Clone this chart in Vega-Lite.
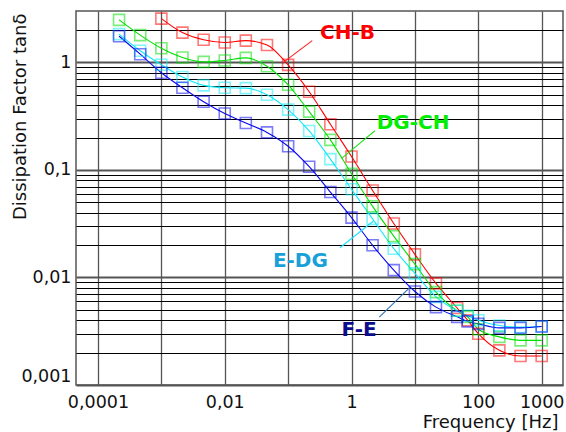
{
  "$schema": "https://vega.github.io/schema/vega-lite/v6.json",
  "autosize": {"type": "none"},
  "padding": {"left": 76, "top": 11, "right": 3, "bottom": 47},
  "width": 487,
  "height": 374,
  "background": "white",
  "config": {"font": "DejaVu Sans", "view": {"stroke": "#555", "strokeWidth": 1.5}},
  "datasets": {
    "curves": [
      {"s": "CH-B", "f": 0.001, "v": 2.55},
      {"s": "CH-B", "f": 0.00215, "v": 1.89},
      {"s": "CH-B", "f": 0.00464, "v": 1.62},
      {"s": "CH-B", "f": 0.01, "v": 1.53},
      {"s": "CH-B", "f": 0.0215, "v": 1.59},
      {"s": "CH-B", "f": 0.0464, "v": 1.45},
      {"s": "CH-B", "f": 0.1, "v": 0.946},
      {"s": "CH-B", "f": 0.215, "v": 0.533},
      {"s": "CH-B", "f": 0.464, "v": 0.266},
      {"s": "CH-B", "f": 1, "v": 0.133},
      {"s": "CH-B", "f": 2.15, "v": 0.0644},
      {"s": "CH-B", "f": 4.64, "v": 0.0317},
      {"s": "CH-B", "f": 10, "v": 0.0164},
      {"s": "CH-B", "f": 21.5, "v": 0.0088},
      {"s": "CH-B", "f": 46.4, "v": 0.0052},
      {"s": "CH-B", "f": 68, "v": 0.004},
      {"s": "CH-B", "f": 100, "v": 0.003},
      {"s": "CH-B", "f": 215, "v": 0.0021},
      {"s": "CH-B", "f": 464, "v": 0.00186},
      {"s": "CH-B", "f": 1000, "v": 0.00186},
      {"s": "DG-CH", "f": 0.000215, "v": 2.48},
      {"s": "DG-CH", "f": 0.000464, "v": 1.79},
      {"s": "DG-CH", "f": 0.001, "v": 1.35},
      {"s": "DG-CH", "f": 0.00215, "v": 1.11},
      {"s": "DG-CH", "f": 0.00464, "v": 1.01},
      {"s": "DG-CH", "f": 0.01, "v": 1.04},
      {"s": "DG-CH", "f": 0.0215, "v": 1.1},
      {"s": "DG-CH", "f": 0.0464, "v": 0.92},
      {"s": "DG-CH", "f": 0.1, "v": 0.618},
      {"s": "DG-CH", "f": 0.215, "v": 0.348},
      {"s": "DG-CH", "f": 0.464, "v": 0.19},
      {"s": "DG-CH", "f": 1, "v": 0.092},
      {"s": "DG-CH", "f": 2.15, "v": 0.0458},
      {"s": "DG-CH", "f": 4.64, "v": 0.0242},
      {"s": "DG-CH", "f": 10, "v": 0.0133},
      {"s": "DG-CH", "f": 21.5, "v": 0.0073},
      {"s": "DG-CH", "f": 46.4, "v": 0.0049},
      {"s": "DG-CH", "f": 68, "v": 0.0043},
      {"s": "DG-CH", "f": 100, "v": 0.0033},
      {"s": "DG-CH", "f": 215, "v": 0.0028},
      {"s": "DG-CH", "f": 464, "v": 0.0026},
      {"s": "DG-CH", "f": 1000, "v": 0.0026},
      {"s": "E-DG", "f": 0.000215, "v": 1.83},
      {"s": "E-DG", "f": 0.000464, "v": 1.28},
      {"s": "E-DG", "f": 0.001, "v": 0.95},
      {"s": "E-DG", "f": 0.00215, "v": 0.73},
      {"s": "E-DG", "f": 0.00464, "v": 0.61},
      {"s": "E-DG", "f": 0.01, "v": 0.58},
      {"s": "E-DG", "f": 0.0215, "v": 0.575},
      {"s": "E-DG", "f": 0.0464, "v": 0.5},
      {"s": "E-DG", "f": 0.1, "v": 0.363},
      {"s": "E-DG", "f": 0.215, "v": 0.23},
      {"s": "E-DG", "f": 0.464, "v": 0.126},
      {"s": "E-DG", "f": 1, "v": 0.066},
      {"s": "E-DG", "f": 2.15, "v": 0.035},
      {"s": "E-DG", "f": 4.64, "v": 0.0185},
      {"s": "E-DG", "f": 10, "v": 0.0109},
      {"s": "E-DG", "f": 21.5, "v": 0.0066},
      {"s": "E-DG", "f": 46.4, "v": 0.0049},
      {"s": "E-DG", "f": 68, "v": 0.0044},
      {"s": "E-DG", "f": 100, "v": 0.004},
      {"s": "E-DG", "f": 215, "v": 0.00357},
      {"s": "E-DG", "f": 464, "v": 0.00345},
      {"s": "E-DG", "f": 1000, "v": 0.0035},
      {"s": "F-E", "f": 0.000215, "v": 1.75},
      {"s": "F-E", "f": 0.000464, "v": 1.19},
      {"s": "F-E", "f": 0.001, "v": 0.8},
      {"s": "F-E", "f": 0.00215, "v": 0.58},
      {"s": "F-E", "f": 0.00464, "v": 0.43},
      {"s": "F-E", "f": 0.01, "v": 0.334},
      {"s": "F-E", "f": 0.0215, "v": 0.273},
      {"s": "F-E", "f": 0.0464, "v": 0.223},
      {"s": "F-E", "f": 0.1, "v": 0.166},
      {"s": "F-E", "f": 0.215, "v": 0.107},
      {"s": "F-E", "f": 0.464, "v": 0.0622},
      {"s": "F-E", "f": 1, "v": 0.036},
      {"s": "F-E", "f": 2.15, "v": 0.0199},
      {"s": "F-E", "f": 4.64, "v": 0.0117},
      {"s": "F-E", "f": 10, "v": 0.0074},
      {"s": "F-E", "f": 21.5, "v": 0.0053},
      {"s": "F-E", "f": 46.4, "v": 0.0043},
      {"s": "F-E", "f": 68, "v": 0.0039},
      {"s": "F-E", "f": 100, "v": 0.0037},
      {"s": "F-E", "f": 215, "v": 0.0034},
      {"s": "F-E", "f": 464, "v": 0.0034},
      {"s": "F-E", "f": 1000, "v": 0.0035}
    ],
    "labels": [
      {"s": "CH-B", "f": 0.318, "v": 1.86, "f1": 0.24, "v1": 1.59, "f2": 0.084, "v2": 1.0},
      {"s": "DG-CH", "f": 2.49, "v": 0.27, "f1": 2.34, "v1": 0.231, "f2": 0.698, "v2": 0.128},
      {"s": "E-DG", "f": 0.0575, "v": 0.0143, "f1": 0.656, "v1": 0.0189, "f2": 2.2, "v2": 0.0333},
      {"s": "F-E", "f": 0.698, "v": 0.00323, "f1": 2.74, "v1": 0.00427, "f2": 8.34, "v2": 0.0081}
    ]
  },
  "layer": [
    {
      "data": {"name": "curves"},
      "mark": {"type": "line", "interpolate": "monotone", "strokeWidth": 1.1},
      "encoding": {
        "x": {
          "field": "f", "type": "quantitative",
          "scale": {"type": "log", "domain": [0.000045, 2170], "nice": false},
          "axis": {
            "title": "Frequency [Hz]",
            "values": [0.0001, 0.001, 0.01, 0.1, 1, 10, 100, 1000],
            "labelExpr": "indexof([0.0001, 0.01, 1, 100, 1000], datum.value) >= 0 ? replace(toString(datum.value), '.', ',') : ''",
            "labelOverlap": false,
            "labelFontSize": 17.5,
            "labelColor": "#111",
            "labelPadding": 8,
            "ticks": false,
            "domain": false,
            "grid": true,
            "gridColor": "#555",
            "gridWidth": 1.3,
            "titleFontSize": 18,
            "titleFontWeight": "normal",
            "titleColor": "#111",
            "titleX": 482,
            "titleY": 42,
            "titleAlign": "right",
            "titleBaseline": "alphabetic"
          }
        },
        "y": {
          "field": "v", "type": "quantitative",
          "scale": {"type": "log", "domain": [0.001, 3], "nice": false},
          "axis": {
            "title": "Dissipation Factor tanδ",
            "values": [0.001, 0.002, 0.003, 0.004, 0.005, 0.006, 0.007, 0.008, 0.009, 0.01, 0.02, 0.03, 0.04, 0.05, 0.06, 0.07, 0.08, 0.09, 0.1, 0.2, 0.3, 0.4, 0.5, 0.6, 0.7, 0.8, 0.9, 1, 2],
            "labelExpr": "indexof([0.001, 0.01, 0.1, 1], datum.value) >= 0 ? replace(toString(datum.value), '.', ',') : ''",
            "labelOverlap": false,
            "labelFlush": true,
            "labelFontSize": 17.5,
            "labelColor": "#111",
            "labelPadding": 5,
            "ticks": false,
            "domain": false,
            "grid": true,
            "gridColor": {"condition": {"test": "indexof([0.001, 0.01, 0.1, 1], datum.value) >= 0", "value": "#555"}, "value": "#000"},
            "gridWidth": {"condition": {"test": "indexof([0.001, 0.01, 0.1, 1], datum.value) >= 0", "value": 2}, "value": 1},
            "titleFontSize": 18,
            "titleFontWeight": "normal",
            "titleColor": "#111",
            "titleAngle": 270,
            "titleX": -51,
            "titleY": 2,
            "titleAlign": "right",
            "titleBaseline": "alphabetic"
          }
        },
        "stroke": {
          "field": "s", "type": "nominal",
          "scale": {"domain": ["CH-B", "DG-CH", "E-DG", "F-E"], "range": ["#ff0000", "#00e000", "#10e8f8", "#0808f0"]},
          "legend": null
        }
      }
    },
    {
      "data": {"name": "curves"},
      "mark": {"type": "point", "shape": "square", "filled": false, "size": 121, "strokeWidth": 1.6, "strokeOpacity": 0.75},
      "encoding": {
        "x": {"field": "f", "type": "quantitative"},
        "y": {"field": "v", "type": "quantitative"},
        "stroke": {"field": "s", "type": "nominal", "legend": null}
      }
    },
    {
      "data": {"name": "labels"},
      "mark": {"type": "rule", "strokeWidth": 1.1},
      "encoding": {
        "x": {"field": "f1", "type": "quantitative"},
        "y": {"field": "v1", "type": "quantitative"},
        "x2": {"field": "f2"},
        "y2": {"field": "v2"},
        "color": {
          "field": "s", "type": "nominal",
          "scale": {"domain": ["CH-B", "DG-CH", "E-DG", "F-E"], "range": ["#ff2020", "#20e020", "#20e0ff", "#3070b0"]},
          "legend": null
        }
      }
    },
    {
      "data": {"name": "labels"},
      "mark": {"type": "text", "align": "left", "baseline": "middle", "fontSize": 20, "fontWeight": "bold"},
      "encoding": {
        "x": {"field": "f", "type": "quantitative"},
        "y": {"field": "v", "type": "quantitative"},
        "text": {"field": "s"},
        "fill": {
          "field": "s", "type": "nominal",
          "scale": {"domain": ["CH-B", "DG-CH", "E-DG", "F-E"], "range": ["#ff0000", "#00ee00", "#1aa0d8", "#0c0c8c"]},
          "legend": null
        }
      }
    }
  ]
}
